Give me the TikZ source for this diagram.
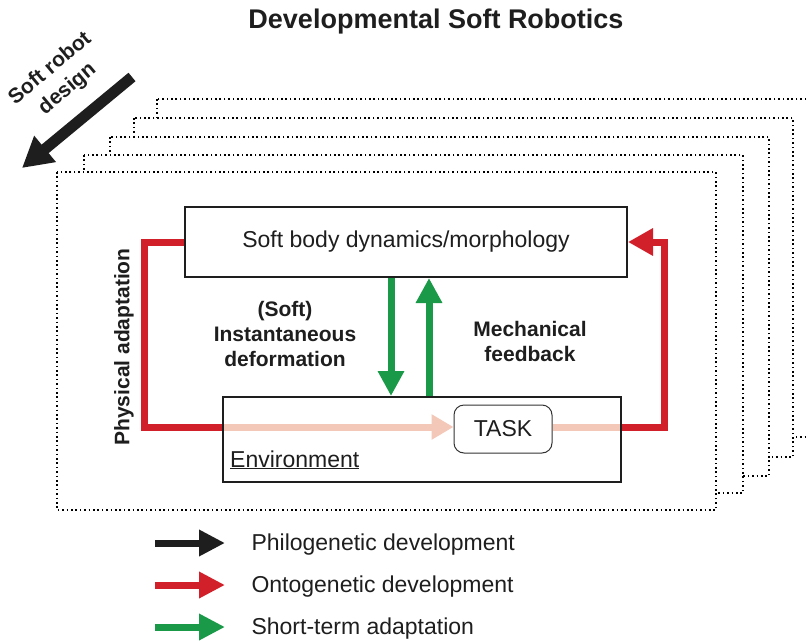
\documentclass[tikz,border=0pt]{standalone}
\usepackage{fontspec}
\setmainfont{Liberation Sans}
\usetikzlibrary{arrows.meta,calc}
\definecolor{ored}{RGB}{210,32,42}
\definecolor{sgreen}{RGB}{26,154,72}
\definecolor{epink}{RGB}{244,200,184}
\definecolor{pblack}{RGB}{30,30,30}
\pgfdeclarelayer{frames}
\pgfdeclarelayer{links}
\pgfsetlayers{frames,links,main}
\tikzset{
  dotframe/.style={draw=black, fill=white, line width=1.6pt, dash pattern=on 1.6pt off 2.8pt},
  blockbox/.style={draw=pblack, line width=2pt, inner sep=0pt},
  taskbox/.style={draw=black!80, line width=1pt, rounded corners=10pt, inner sep=0pt},
  plain/.style={font=\fontsize{23}{26}\selectfont, text=pblack},
  boldlbl/.style={font=\bfseries\fontsize{21}{25}\selectfont, text=pblack, align=center},
  redline/.style={draw=ored, line width=7pt},
  pinkline/.style={draw=epink, line width=7pt},
  greenarrow/.style={draw=sgreen, line width=7pt, -{Triangle[length=25pt,width=25pt]}},
  redarrow/.style={redline, -{Triangle[length=25pt,width=26pt]}},
  legendarrow/.style={line width=7pt, -{Triangle[length=26pt,width=25pt]}},
  designarrow/.style={draw=pblack, line width=11pt, -{Triangle[length=30pt,width=32pt]}}
}
\begin{document}
\begin{tikzpicture}[x=1pt,y=-1pt]
\useasboundingbox (0,0) rectangle (808,640);
\clip (0,0) rectangle (808,640);

% stack of design generations, back to front
\begin{pgfonlayer}{frames}
  \draw[dotframe] (157,99) rectangle (830,437);
  \draw[dotframe] (134,118) rectangle (793,457);
  \draw[dotframe] (110,137) rectangle (769,476);
  \draw[dotframe] (84,155) rectangle (743,493);
  \draw[dotframe] (57,172) rectangle (716,510);
\end{pgfonlayer}

% title
\node[font=\bfseries\fontsize{27}{30}\selectfont, text=pblack] (title) at (436,22) {Developmental Soft Robotics};

% soft robot design arrow
\coordinate (dstart) at (132,77);
\coordinate (dend) at (22,168);
\draw[designarrow] (dstart) -- (dend);
\node[boldlbl, rotate=40, font=\bfseries\fontsize{21}{27}\selectfont] (design) at (59,79) {Soft robot\\design};

% main blocks
\node[blockbox, minimum width=442pt, minimum height=70pt] (body) at (406,242) {};
\node[plain] (bodytxt) at (406,242) {Soft body dynamics/morphology};
\node[blockbox, minimum width=398pt, minimum height=85pt] (env) at (422,439.5) {};
\node[plain, anchor=base west, inner sep=0pt] (envtxt) at (230,467) {\underline{Environment}};
\node[taskbox, minimum width=98pt, minimum height=48pt] (task) at (503,429) {};
\node[plain] (tasktxt) at (503,429) {TASK};

% labels
\node[boldlbl] (deform) at (285,334) {(Soft)\\Instantaneous\\deformation};
\node[boldlbl] (mech) at (530,341) {Mechanical\\feedback};
\node[boldlbl, rotate=90] (phys) at (124,347) {Physical adaptation};

% connectors
\path (env.north west) ++(0,31) coordinate (envL);
\path (env.north east) ++(0,31) coordinate (envR);
\begin{pgfonlayer}{links}
  \draw[pinkline, -{Triangle[length=22pt,width=24pt]}] (envL) -- (envL -| task.west);
  \draw[pinkline] (envR -| task.east) -- (envR);
  \draw[redline] (body.west) -- ++(-40,0) |- (envL);
  \draw[redarrow] (envR) -- ++(42,0) |- (body.east);
  \draw[greenarrow] ([xshift=-15pt]body.south) -- ([xshift=-15pt]body.south |- env.north);
  \draw[greenarrow] ([xshift=23pt]body.south |- env.north) -- ([xshift=23pt]body.south);
\end{pgfonlayer}

% legend
\coordinate (la1) at (155,543); \coordinate (lb1) at (225,543);
\coordinate (la2) at (155,585); \coordinate (lb2) at (225,585);
\coordinate (la3) at (155,627); \coordinate (lb3) at (225,627);
\draw[legendarrow, draw=pblack] (la1) -- (lb1);
\draw[legendarrow, draw=ored] (la2) -- (lb2);
\draw[legendarrow, draw=sgreen] (la3) -- (lb3);
\node[plain, anchor=west] (leg1) at (248,545) {Philogenetic development};
\node[plain, anchor=west] (leg2) at (248,587) {Ontogenetic development};
\node[plain, anchor=west] (leg3) at (248,629) {Short-term adaptation};
\end{tikzpicture}
\end{document}
